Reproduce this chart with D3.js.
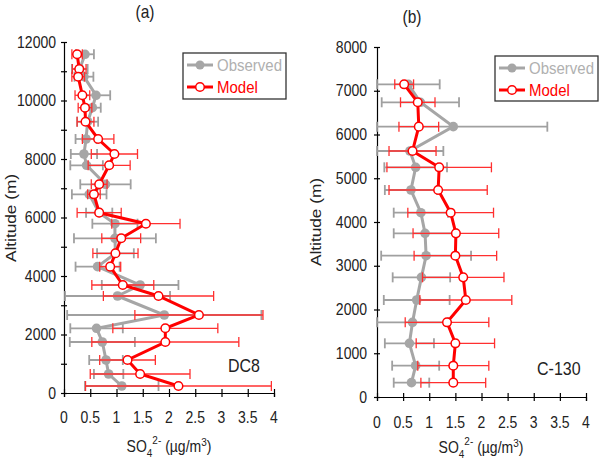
<!DOCTYPE html>
<html><head><meta charset="utf-8">
<script src="https://cdn.jsdelivr.net/npm/d3@7"></script>
<style>body{margin:0;background:#fff}svg{display:block}text{font-family:Arial,"Liberation Sans",sans-serif}</style>
</head><body><svg id="c" width="604" height="466"></svg>
<script>
// Panel (a) DC8
const altA=[11580,11077,10814,10178,9754,9275,8684,8171,7785,7135,6793,6165,5788,5289,4776,4319,3692,3316,2667,2212,1744,1128,650,239];
const obsA=[0.40,0.30,0.38,0.61,0.54,0.45,0.42,0.38,0.43,0.79,0.48,0.67,0.97,0.97,0.98,0.64,1.45,1.02,1.91,0.62,0.73,0.80,0.85,1.10];
const obsErrA=[0.17,0.15,0.18,0.27,0.16,0.20,0.20,0.25,0.31,0.48,0.33,0.25,0.43,0.78,0.35,0.42,0.73,1.00,1.85,0.50,0.62,0.32,0.28,0.70];
const modA=[0.25,0.29,0.27,0.35,0.40,0.41,0.65,0.96,0.86,0.67,0.57,0.67,1.56,1.09,0.98,0.88,1.12,1.80,2.57,1.93,1.93,1.21,1.45,2.18];
const modErrA=[0.10,0.13,0.12,0.14,0.13,0.16,0.30,0.44,0.40,0.15,0.12,0.42,0.65,0.37,0.43,0.20,0.59,1.05,1.22,1.00,1.40,0.53,0.95,1.77];
// Panel (b) C-130
const altB=[7147,6736,6179,5623,5250,4731,4213,3741,3230,2735,2217,1707,1227,716,328];
const obsB=[0.60,0.83,1.46,0.63,0.74,0.65,0.84,0.92,0.94,0.85,0.76,0.68,0.62,0.74,0.66];
const obsErrB=[0.60,0.74,1.80,0.64,0.60,0.50,0.52,0.60,0.86,0.55,0.63,0.68,0.47,0.45,0.34];
const modB=[0.52,0.78,0.80,0.68,1.19,1.17,1.41,1.51,1.50,1.65,1.70,1.34,1.50,1.46,1.46];
const modErrB=[0.18,0.33,0.38,0.45,1.00,0.94,0.82,0.82,0.79,0.78,0.88,0.80,0.75,0.68,0.62];
const xTicks=[0,0.5,1,1.5,2,2.5,3,3.5,4];
const seriesNames=["Observed","Model"];

const svg=d3.select("#c");
const GREY="#a6a6a6", RED="#ff0000", SY=1.15;

function txt(g,x,y,s,opt={}){
  const t=g.append("text").attr("transform",`translate(${x},${y}) scale(1,${SY})`)
    .attr("font-size",opt.size||14).attr("fill",opt.fill||"#222")
    .attr("text-anchor",opt.anchor||"start");
  if(opt.rotate) t.attr("transform",`translate(${x},${y}) rotate(-90) scale(${SY},1)`);
  if(s!==null) t.text(s);
  return t;
}

function panel(cfg){
  const g=svg.append("g");
  const x=d3.scaleLinear().domain([0,4]).range(cfg.xr);
  const y=d3.scaleLinear().domain([0,cfg.ymax]).range(cfg.yr);
  const y0=cfg.yr[0], x0=cfg.xr[0];
  // axes
  const ax=g.append("g").attr("transform",`translate(0,${y0})`)
    .call(d3.axisBottom(x).tickValues(xTicks).tickSize(4).tickFormat(""));
  ax.selectAll(".tick line").attr("y1",-4).attr("stroke","#000").attr("stroke-width",1.2);
  ax.select(".domain").attr("stroke","#000").attr("stroke-width",1.2);
  xTicks.forEach(v=>txt(g,x(v),y0+cfg.xlab,d3.format("")(v),{anchor:"middle"}));
  const ay=g.append("g").attr("transform",`translate(${x0},0)`)
    .call(d3.axisLeft(y).tickValues(d3.range(0,cfg.ymax+1,1000)).tickSize(3).tickFormat(""));
  ay.selectAll(".tick line").attr("x1",3).attr("stroke","#000").attr("stroke-width",1.2);
  ay.select(".domain").attr("stroke","#000").attr("stroke-width",1.2);
  d3.range(0,cfg.ymax+1,cfg.ylabStep).forEach(v=>txt(g,x0-cfg.ypad,y(v)+5.5,String(v),{anchor:"end"}));
  // titles
  txt(g,cfg.title[0],cfg.title[1],cfg.titleText,{anchor:"middle",size:15.5});
  txt(g,cfg.ytitle[0],cfg.ytitle[1],"Altitude (m)",{anchor:"middle",size:15,rotate:true});
  const xt=txt(g,cfg.xtitle[0],cfg.xtitle[1],null,{anchor:"middle",size:14});
  xt.append("tspan").text("SO");
  xt.append("tspan").attr("font-size",10).attr("dy",4).text("4");
  xt.append("tspan").attr("font-size",10).attr("dy",-11).text("2-");
  xt.append("tspan").attr("dy",7).text(" (µg/m");
  xt.append("tspan").attr("font-size",10).attr("dy",-5).text("3");
  xt.append("tspan").attr("dy",5).text(")");
  txt(g,cfg.tag[0],cfg.tag[1],cfg.tagText,{size:16});

  const clamp=v=>Math.max(0,Math.min(4,v));
  function errbars(vals,errs,alts,color,w){
    const eg=g.append("g").attr("stroke",color).attr("stroke-width",w).attr("fill","none");
    vals.forEach((v,i)=>{
      const lo=x(clamp(v-errs[i])), hi=x(clamp(v+errs[i])), yy=y(alts[i]);
      eg.append("line").attr("x1",lo).attr("x2",hi).attr("y1",yy).attr("y2",yy);
      [lo,hi].forEach(xx=>eg.append("line").attr("x1",xx).attr("x2",xx).attr("y1",yy-5).attr("y2",yy+5));
    });
  }
  const line=d3.line().x(d=>x(d[0])).y(d=>y(d[1]));
  // observed
  errbars(cfg.obs,cfg.obsErr,cfg.alt,"#a0a0a0",1.8);
  g.append("path").attr("d",line(cfg.obs.map((v,i)=>[v,cfg.alt[i]]))).attr("fill","none").attr("stroke",GREY).attr("stroke-width",3);
  g.selectAll(null).data(cfg.obs).enter().append("circle").attr("cx",d=>x(d)).attr("cy",(d,i)=>y(cfg.alt[i])).attr("r",4.8).attr("fill",GREY);
  // model
  errbars(cfg.mod,cfg.modErr,cfg.alt,"#ff3030",1.3);
  g.append("path").attr("d",line(cfg.mod.map((v,i)=>[v,cfg.alt[i]]))).attr("fill","none").attr("stroke",RED).attr("stroke-width",3);
  g.selectAll(null).data(cfg.mod).enter().append("circle").attr("cx",d=>x(d)).attr("cy",(d,i)=>y(cfg.alt[i])).attr("r",4.3).attr("fill","#fff").attr("stroke",RED).attr("stroke-width",1.5);
  // legend
  const L=cfg.leg;
  g.append("rect").attr("x",L[0]).attr("y",L[1]).attr("width",L[2]).attr("height",L[3]).attr("fill","#fff").attr("stroke","#333").attr("stroke-width",1.3);
  const lx=L[0]+4, ly1=L[1]+12, ly2=L[1]+34;
  g.append("line").attr("x1",lx).attr("x2",lx+26).attr("y1",ly1).attr("y2",ly1).attr("stroke",GREY).attr("stroke-width",3);
  g.append("circle").attr("cx",lx+13).attr("cy",ly1).attr("r",4.5).attr("fill",GREY);
  txt(g,lx+30,ly1+6,seriesNames[0],{size:15,fill:"#b0b0b0"});
  g.append("line").attr("x1",lx).attr("x2",lx+26).attr("y1",ly2).attr("y2",ly2).attr("stroke",RED).attr("stroke-width",3);
  g.append("circle").attr("cx",lx+13).attr("cy",ly2).attr("r",4.3).attr("fill","#fff").attr("stroke",RED).attr("stroke-width",1.5);
  txt(g,lx+30,ly2+6,seriesNames[1],{size:15,fill:RED});
}

panel({xr:[64,274],yr:[393,42],ymax:12000,ylabStep:2000,ypad:8,xlab:30,
  title:[145,18],titleText:"(a)",ytitle:[16,218],xtitle:[169,452],tag:[228,372],tagText:"DC8",
  alt:altA,obs:obsA,obsErr:obsErrA,mod:modA,modErr:modErrA,leg:[183,53,103,46]});
panel({xr:[377,586],yr:[397,47],ymax:8000,ylabStep:1000,ypad:10,xlab:31,
  title:[412,23],titleText:"(b)",ytitle:[321,222],xtitle:[481,453],tag:[537,375],tagText:"C-130",
  alt:altB,obs:obsB,obsErr:obsErrB,mod:modB,modErr:modErrB,leg:[495,56,103,45]});
</script></body></html>
